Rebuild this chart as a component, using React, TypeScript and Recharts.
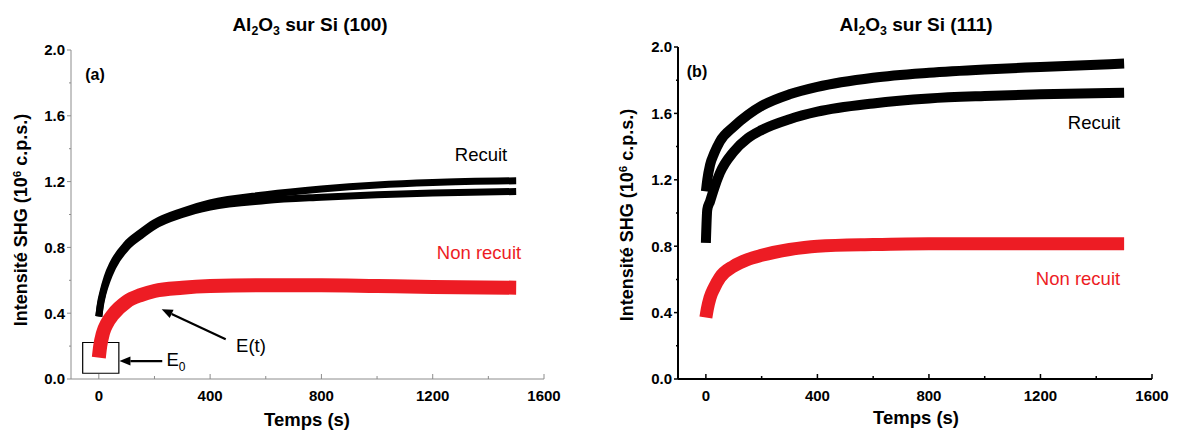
import React from 'react';
import { LineChart, Line, XAxis, YAxis, ReferenceArea, ReferenceLine } from 'recharts';

const FONT = '"Liberation Sans", Arial, sans-serif';
const RED = '#ED1C24';

// (a) Si (100) — temps (s) et intensité SHG (10^6 c.p.s.)
const tempsA = [0, 5, 15, 30, 50, 100, 150, 200, 300, 400, 600, 800, 1000, 1200, 1500];
const recuitHautA = [0.38, 0.45, 0.53, 0.62, 0.7, 0.82, 0.89, 0.95, 1.02, 1.07, 1.12, 1.155, 1.18, 1.195, 1.205];
const recuitBasA = [0.38, 0.44, 0.52, 0.6, 0.68, 0.8, 0.87, 0.93, 1.0, 1.045, 1.085, 1.105, 1.12, 1.13, 1.14];
const nonRecuitA = [0.13, 0.2, 0.28, 0.34, 0.39, 0.47, 0.51, 0.535, 0.555, 0.565, 0.57, 0.57, 0.565, 0.56, 0.555];

// (b) Si (111)
const tempsB = [0, 5, 15, 30, 50, 100, 150, 200, 300, 400, 600, 800, 1000, 1200, 1500];
const recuitHautB = [1.13, 1.2, 1.29, 1.36, 1.43, 1.52, 1.59, 1.645, 1.715, 1.76, 1.815, 1.845, 1.865, 1.88, 1.9];
const recuitBasB = [0.82, 1.02, 1.07, 1.15, 1.24, 1.37, 1.45, 1.5, 1.565, 1.61, 1.66, 1.69, 1.705, 1.715, 1.725];
const nonRecuitB = [0.37, 0.42, 0.49, 0.55, 0.61, 0.68, 0.72, 0.745, 0.78, 0.8, 0.81, 0.815, 0.815, 0.815, 0.815];

const xTicks = [0, 200, 400, 600, 800, 1000, 1200, 1400, 1600];
const yTicks = [0, 0.2, 0.4, 0.6, 0.8, 1.0, 1.2, 1.4, 1.6, 1.8, 2.0];

const dataA = tempsA.map((t, i) => ({ t, haut: recuitHautA[i], bas: recuitBasA[i], nr: nonRecuitA[i] }));
const dataB = tempsB.map((t, i) => ({ t, haut: recuitHautB[i], bas: recuitBasB[i], nr: nonRecuitB[i] }));

const isMajorX = (v: number) => v % 400 === 0;
const isMajorY = (v: number) => Math.round(v * 10) % 4 === 0;

// ticks "à la Origin" : graduations majeures et mineures
const makeTick = (side: string, color: string, w: number) => (props: any) => {
  const { x, y, payload } = props;
  const v = payload.value;
  const horiz = side === 'bottom' || side === 'top';
  const major = horiz ? isMajorX(v) : isMajorY(v);
  const len = major ? 5 : 3;
  const txt = { fontFamily: FONT, fontWeight: 700, fontSize: 15, fill: '#000' } as const;
  if (side === 'bottom') {
    return (
      <g>
        <line x1={x} y1={y} x2={x} y2={y - len} stroke={color} strokeWidth={w} />
        {major && <text x={x} y={y + 22} textAnchor="middle" {...txt}>{v}</text>}
      </g>
    );
  }
  if (side === 'top') {
    return <line x1={x} y1={y} x2={x} y2={y + len} stroke={color} strokeWidth={w} />;
  }
  if (side === 'left') {
    return (
      <g>
        <line x1={x} y1={y} x2={x - len + 1} y2={y} stroke={color} strokeWidth={w} />
        {major && <text x={x - 6} y={y} dy="0.36em" textAnchor="end" {...txt}>{v.toFixed(1)}</text>}
      </g>
    );
  }
  return <line x1={x} y1={y} x2={x - len} y2={y} stroke={color} strokeWidth={w} />;
};

const arrowShape = (p: any) => {
  const { x1, y1, x2, y2 } = p;
  const a = Math.atan2(y2 - y1, x2 - x1);
  const L = 11;
  const W = 4.5;
  const bx = x2 - L * Math.cos(a);
  const by = y2 - L * Math.sin(a);
  const pts = `${x2},${y2} ${bx - W * Math.sin(a)},${by + W * Math.cos(a)} ${bx + W * Math.sin(a)},${by - W * Math.cos(a)}`;
  return (
    <g>
      <line x1={x1} y1={y1} x2={bx} y2={by} stroke="#000" strokeWidth={2.2} />
      <polygon points={pts} fill="#000" />
    </g>
  );
};

const txt = (left: number, top: number, content: React.ReactNode, extra: React.CSSProperties = {}) => (
  <div
    style={{
      position: 'absolute',
      left,
      top,
      transform: 'translate(-50%, -50%)',
      whiteSpace: 'nowrap',
      lineHeight: 1,
      fontFamily: FONT,
      color: '#000',
      ...extra,
    }}
  >
    {content}
  </div>
);

const subSt: React.CSSProperties = { fontSize: '0.65em', verticalAlign: '-0.35em' };
const supSt: React.CSSProperties = { fontSize: '0.65em', verticalAlign: '0.55em' };

const Titre = ({ hkl }: { hkl: string }) => (
  <span>
    Al<span style={subSt}>2</span>O<span style={subSt}>3</span> sur Si ({hkl})
  </span>
);

const YTitre = () => (
  <span>
    Intensité SHG (10<span style={supSt}>6</span> c.p.s.)
  </span>
);

export default function App() {
  const greyA = '#8c8c8c';
  return (
    <div style={{ position: 'absolute', left: 0, top: 0, width: 1177, height: 430, background: '#fff', fontFamily: FONT }}>
      {/* (a) Si (100) */}
      <div style={{ position: 'absolute', left: 0, top: 0 }}>
        <LineChart width={590} height={430} data={dataA} margin={{ top: 50, right: 46, bottom: 0, left: 0 }}>
          <XAxis dataKey="t" type="number" domain={[-100, 1600]} ticks={xTicks} interval={0} height={51}
            tickSize={0} tickMargin={0} tickLine={false} axisLine={{ stroke: greyA, strokeWidth: 1 }}
            tick={makeTick('bottom', greyA, 1)} allowDataOverflow />
          <XAxis xAxisId="top" orientation="top" type="number" domain={[-100, 1600]} ticks={xTicks} interval={0} height={0}
            tickSize={0} tickMargin={0} tickLine={false} axisLine={false} tick={makeTick('top', greyA, 1)} />
          <YAxis type="number" domain={[0, 2]} ticks={yTicks} interval={0} width={71}
            tickSize={0} tickMargin={0} tickLine={false} axisLine={{ stroke: greyA, strokeWidth: 1 }}
            tick={makeTick('left', greyA, 1)} allowDataOverflow />
          <YAxis yAxisId="right" orientation="right" type="number" domain={[0, 2]} ticks={yTicks} interval={0} width={0}
            tickSize={0} tickMargin={0} tickLine={false} axisLine={{ stroke: greyA, strokeWidth: 1 }}
            tick={makeTick('right', greyA, 1)} />
          <Line dataKey="haut" type="monotone" stroke="#000" strokeWidth={7} dot={false} activeDot={false} isAnimationActive={false} />
          <Line dataKey="bas" type="monotone" stroke="#000" strokeWidth={7} dot={false} activeDot={false} isAnimationActive={false} />
          <Line dataKey="nr" type="monotone" stroke={RED} strokeWidth={14} dot={false} activeDot={false} isAnimationActive={false} />
          <ReferenceArea x1={-58} x2={72} y1={0.035} y2={0.222} fill="none" fillOpacity={0} stroke="#000" strokeWidth={1.2} />
          <ReferenceLine segment={[{ x: 228, y: 0.109 }, { x: 74, y: 0.109 }]} shape={arrowShape} />
          <ReferenceLine segment={[{ x: 456, y: 0.241 }, { x: 226, y: 0.424 }]} shape={arrowShape} />
        </LineChart>
      </div>

      {/* (b) Si (111) */}
      <div style={{ position: 'absolute', left: 590, top: 0 }}>
        <LineChart width={587} height={430} data={dataB} margin={{ top: 47, right: 25, bottom: 0, left: 0 }}>
          <XAxis dataKey="t" type="number" domain={[-100, 1600]} ticks={xTicks} interval={0} height={51}
            tickSize={0} tickMargin={0} tickLine={false} axisLine={{ stroke: '#000', strokeWidth: 2 }}
            tick={makeTick('bottom', '#000', 1.5)} allowDataOverflow />
          <XAxis xAxisId="top" orientation="top" type="number" domain={[-100, 1600]} ticks={xTicks} interval={0} height={0}
            tickSize={0} tickMargin={0} tickLine={false} axisLine={{ stroke: '#000', strokeWidth: 2 }}
            tick={makeTick('top', '#000', 1.5)} />
          <YAxis type="number" domain={[0, 2]} ticks={yTicks} interval={0} width={88}
            tickSize={0} tickMargin={0} tickLine={false} axisLine={{ stroke: '#000', strokeWidth: 2 }}
            tick={makeTick('left', '#000', 1.5)} allowDataOverflow />
          <YAxis yAxisId="right" orientation="right" type="number" domain={[0, 2]} ticks={yTicks} interval={0} width={0}
            tickSize={0} tickMargin={0} tickLine={false} axisLine={{ stroke: '#000', strokeWidth: 2 }}
            tick={makeTick('right', '#000', 1.5)} />
          <Line dataKey="haut" type="monotone" stroke="#000" strokeWidth={10} dot={false} activeDot={false} isAnimationActive={false} />
          <Line dataKey="bas" type="monotone" stroke="#000" strokeWidth={10} dot={false} activeDot={false} isAnimationActive={false} />
          <Line dataKey="nr" type="monotone" stroke={RED} strokeWidth={13} dot={false} activeDot={false} isAnimationActive={false} />
        </LineChart>
      </div>

      {/* textes */}
      {txt(310, 26, <Titre hkl="100" />, { fontSize: 19, fontWeight: 700 })}
      {txt(916, 26, <Titre hkl="111" />, { fontSize: 19, fontWeight: 700 })}
      {txt(307, 420, 'Temps (s)', { fontSize: 18.5, fontWeight: 700 })}
      {txt(916, 418, 'Temps (s)', { fontSize: 18.5, fontWeight: 700 })}
      {txt(21, 220, <YTitre />, { fontSize: 18, fontWeight: 700, transform: 'translate(-50%, -50%) rotate(-90deg)' })}
      {txt(627, 215, <YTitre />, { fontSize: 18, fontWeight: 700, transform: 'translate(-50%, -50%) rotate(-90deg)' })}
      {txt(95, 75, '(a)', { fontSize: 16, fontWeight: 700 })}
      {txt(697, 72, '(b)', { fontSize: 16, fontWeight: 700 })}
      {txt(481, 155, 'Recuit', { fontSize: 18.5 })}
      {txt(479, 253, 'Non recuit', { fontSize: 18.5, color: RED })}
      {txt(1094, 123, 'Recuit', { fontSize: 18.5 })}
      {txt(1078, 279, 'Non recuit', { fontSize: 18.5, color: RED })}
      {txt(251, 346, 'E(t)', { fontSize: 18.5 })}
      {txt(176, 362, <span>E<span style={{ fontSize: '0.65em', verticalAlign: '-0.45em', color: '#000' }}>0</span></span>, { fontSize: 18.5 })}
    </div>
  );
}
